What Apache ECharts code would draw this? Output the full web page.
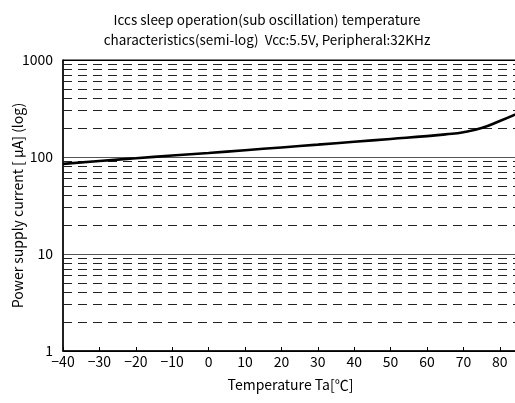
<!DOCTYPE html>
<html>
<head>
<meta charset="utf-8">
<script src="https://cdn.jsdelivr.net/npm/echarts@6/dist/echarts.min.js"></script>
<style>html,body{margin:0;padding:0;background:#fff;}#c{width:515px;height:403px;}</style>
</head>
<body>
<div id="c"></div>
<script>
var temps = [-40, -30, -20, -10, 0, 10, 20, 30, 40, 50, 60, 65, 70, 75, 80, 85];
var current = [85, 91, 97, 103.5, 110, 117.5, 125.5, 134, 143.5, 153.5, 164, 171, 180, 199, 235, 282];
var minorGrid = [2, 3, 4, 5, 6, 7, 8, 9, 20, 30, 40, 50, 60, 70, 80, 90, 200, 300, 400, 500, 600, 700, 800, 900];
var titleLines = ['Iccs sleep operation(sub oscillation) temperature', 'characteristics(semi-log)  Vcc:5.5V, Peripheral:32KHz'];

var FONT = '"Noto Sans CJK JP", "Noto Sans", sans-serif';
var chart = echarts.init(document.getElementById('c'), null, {renderer: 'canvas'});
chart.setOption({
  animation: false,
  backgroundColor: '#fff',
  title: {
    text: titleLines.join('\n'),
    left: 262, top: 5, textAlign: 'center',
    textStyle: {fontFamily: FONT, fontSize: 13.5, fontWeight: 'normal', color: '#000', lineHeight: 20}
  },
  grid: {left: 63, top: 60, right: -3, bottom: 52, show: true, borderColor: '#000', borderWidth: 1,
    containLabel: false, outerBoundsMode: 'none'},
  xAxis: {
    type: 'value', min: -40, max: 85, interval: 10,
    name: 'Temperature Ta[\u2103]', nameLocation: 'middle', nameGap: 27, nameMoveOverlap: false,
    nameTextStyle: {fontFamily: FONT, fontSize: 14, color: '#000'},
    axisLine: {onZero: false, lineStyle: {color: '#000', width: 1.5}},
    axisTick: {inside: true, length: 4, lineStyle: {color: '#000'}},
    axisLabel: {fontFamily: FONT, fontSize: 14, color: '#000', margin: 4, showMaxLabel: false,
      formatter: function (v) { return v < 0 ? '\u2212' + Math.abs(v) : String(v); }},
    splitLine: {show: false}
  },
  yAxis: {
    type: 'log', logBase: 10, min: 1, max: 1000,
    name: 'Power supply current [ \u03bcA] (log)', nameLocation: 'middle', nameGap: 38, nameMoveOverlap: false,
    nameTextStyle: {fontFamily: FONT, fontSize: 14, color: '#000'},
    axisLine: {show: true, onZero: false, lineStyle: {color: '#000', width: 1.5}},
    axisTick: {show: false},
    axisLabel: {fontFamily: FONT, fontSize: 14, color: '#000', margin: 10,
      formatter: function (v) { return String(Math.round(v)); }},
    splitLine: {show: true, lineStyle: {color: ['#000', '#555', '#555', '#000'], width: 1}}
  },
  series: [
    {
      type: 'line', data: temps.map(function (t, i) { return [t, current[i]]; }),
      smooth: 0.5, showSymbol: false, symbol: 'none',
      lineStyle: {color: '#000', width: 2.6},
      z: 5,
      markLine: {
        silent: true, symbol: 'none', label: {show: false},
        lineStyle: {color: '#222', width: 1, type: [9, 6]},
        data: minorGrid.map(function (v) { return {yAxis: v}; })
      }
    }
  ]
});
</script>
</body>
</html>
